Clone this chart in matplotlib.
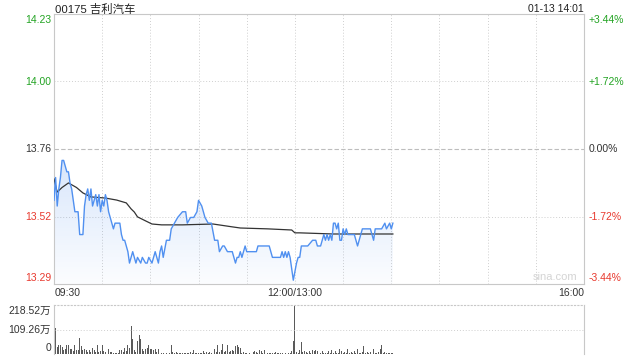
import matplotlib
matplotlib.use('Agg')
import matplotlib.pyplot as plt
import numpy as np
from matplotlib.patches import Polygon

plt.rcParams['font.family'] = ['Liberation Sans', 'Noto Sans CJK SC', 'DejaVu Sans']

# ---------------- data ----------------
title = '00175 吉利汽车'
timestamp = '01-13 14:01'
prev_close = 13.76
range_pct = 3.44
price_labels = ['14.23', '14.00', '13.76', '13.52', '13.29']
pct_labels = ['+3.44%', '+1.72%', '0.00%', '-1.72%', '-3.44%']
x_labels = ['09:30', '12:00/13:00', '16:00']
vol_max = 218.52
vol_labels = ['218.52万', '109.26万', '0']

# minute index since 09:30 (13:00 == 150), price
price_min = [0, 1, 2, 3, 4, 5, 6, 7, 8, 9, 10, 11, 12, 13, 15, 16, 18, 19, 20, 21,
             22, 23, 24, 25, 26, 27, 28, 29, 30, 31, 32, 33, 34, 36, 37, 38, 39, 41, 42, 43,
             44, 46, 47, 49, 50, 51, 52, 54, 55, 57, 58, 59, 61, 63, 65, 66, 67, 68, 70, 72,
             73, 75, 77, 80, 82, 83, 85, 87, 89, 90, 92, 94, 96, 98, 100, 102, 103, 105, 106, 108,
             111, 113, 114, 115, 116, 117, 118, 119, 120, 126, 127, 134, 136, 141, 142, 143, 144, 145, 146, 147,
             148, 149, 151, 152, 153, 154, 158, 161, 163, 164, 166, 167, 168, 169, 170, 171, 172, 173, 174, 175,
             176, 177, 178, 179, 180, 181, 182, 183, 187, 189, 190, 191, 192, 194, 196, 197, 199, 200, 201, 202,
             204, 206, 207, 209, 210, 211]
price = [13.58, 13.66, 13.56, 13.62, 13.66, 13.72, 13.72, 13.70, 13.68, 13.68, 13.64, 13.62, 13.58, 13.54, 13.54, 13.46, 13.46, 13.56, 13.60, 13.62,
         13.58, 13.62, 13.56, 13.58, 13.60, 13.56, 13.60, 13.54, 13.58, 13.56, 13.60, 13.58, 13.54, 13.50, 13.48, 13.50, 13.50, 13.50, 13.46, 13.44,
         13.44, 13.40, 13.36, 13.40, 13.38, 13.36, 13.38, 13.36, 13.38, 13.36, 13.36, 13.38, 13.36, 13.40, 13.36, 13.40, 13.42, 13.38, 13.44, 13.44,
         13.48, 13.50, 13.52, 13.54, 13.54, 13.50, 13.52, 13.52, 13.54, 13.58, 13.56, 13.52, 13.50, 13.50, 13.44, 13.44, 13.40, 13.42, 13.42, 13.40,
         13.40, 13.36, 13.38, 13.38, 13.40, 13.38, 13.40, 13.42, 13.40, 13.40, 13.42, 13.42, 13.38, 13.38, 13.40, 13.38, 13.40, 13.38, 13.40, 13.38,
         13.34, 13.30, 13.36, 13.38, 13.38, 13.42, 13.42, 13.44, 13.44, 13.42, 13.42, 13.44, 13.46, 13.44, 13.46, 13.44, 13.46, 13.44, 13.50, 13.50,
         13.48, 13.50, 13.44, 13.44, 13.48, 13.46, 13.48, 13.46, 13.46, 13.42, 13.44, 13.46, 13.48, 13.48, 13.48, 13.48, 13.44, 13.48, 13.48, 13.48,
         13.48, 13.50, 13.48, 13.50, 13.48, 13.50]

avg_min = [0, 2, 5, 9, 14, 18, 23, 32, 39, 45, 48, 50, 52, 57, 61, 67, 80, 99, 111, 116,
           133, 148, 150, 153, 174, 211]
avg_price = [13.655, 13.609, 13.625, 13.641, 13.625, 13.606, 13.592, 13.588, 13.581, 13.571,
             13.550, 13.539, 13.522, 13.508, 13.497, 13.494, 13.494, 13.497, 13.487, 13.483,
             13.480, 13.476, 13.466, 13.466, 13.462, 13.462]

# volume per minute (万股), minute 0 .. 211
volume = [84, 118, 30, 42, 39, 31, 18, 24, 39, 42, 24, 24, 14, 39, 16, 20, 72, 34, 16, 24,
          16, 10, 16, 8, 27, 16, 10, 42, 9, 12, 42, 12, 9, 12, 24, 8, 9, 5, 6, 4,
          6, 16, 16, 8, 27, 12, 39, 27, 124, 69, 16, 10, 57, 84, 69, 24, 12, 24, 27, 42,
          24, 24, 16, 24, 10, 21, 21, 6, 4, 2, 3, 2, 4, 42, 9, 6, 9, 5, 6, 4,
          6, 3, 6, 4, 5, 9, 6, 16, 4, 6, 5, 6, 4, 12, 6, 9, 5, 9, 4, 9,
          24, 8, 42, 10, 16, 46, 9, 12, 39, 8, 12, 16, 12, 36, 39, 31, 27, 6, 9, 6,
          6, 2, 6, 2, 9, 12, 9, 6, 16, 12, 5, 16, 6, 4, 5, 3, 4, 6, 9, 4,
          6, 3, 4, 2, 3, 2, 4, 6, 12, 57, 218.52, 9, 6, 16, 54, 8, 12, 9, 5, 12,
          6, 16, 12, 16, 12, 6, 5, 12, 4, 6, 5, 12, 6, 16, 5, 12, 6, 4, 21, 12,
          5, 9, 4, 21, 6, 9, 5, 12, 4, 21, 6, 5, 8, 36, 5, 9, 4, 9, 5, 24,
          6, 4, 9, 21, 42, 6, 9, 5, 6, 4, 5, 6]

# ---------------- styling ----------------
GREEN = '#22a322'
RED = '#e8392e'
DARK = '#333333'
BLUE = '#5090f0'
GRID = '#cfcfcf'
BORDER = '#c8c8c8'

W, H = 640, 360
fig = plt.figure(figsize=(6.4, 3.6), dpi=100)

def fx(px):
    return px / W

def fy(py):
    return 1 - py / H

L, R = 54, 584
T1, B1 = 14, 284
T2, B2 = 305, 354

ax = fig.add_axes([fx(L), fy(B1), (R - L) / W, (B1 - T1) / H])
lo = prev_close * (1 - range_pct / 100)
hi = prev_close * (1 + range_pct / 100)
ax.set_xlim(0, 330)
ax.set_ylim(lo, hi)
ax.set_xticks([])
ax.set_yticks([])
for s in ax.spines.values():
    s.set_color(BORDER)
    s.set_linewidth(0.8)

for m in range(30, 330, 30):
    ax.axvline(m, color=GRID, lw=0.7, ls=(0, (1, 2)), zorder=1)
step = (hi - prev_close) / 2
ax.axhline(prev_close + step, color=GRID, lw=0.7, ls=(0, (1, 2)), zorder=1)
ax.axhline(prev_close - step, color=GRID, lw=0.7, ls=(0, (1, 2)), zorder=1)
ax.axhline(prev_close, color='#bdbdbd', lw=0.8, ls=(0, (4, 2)), zorder=1)

# gradient fill under price line
xs = np.array(price_min, dtype=float)
ys = np.array(price, dtype=float)
poly = np.vstack([np.column_stack([xs, ys]), [[xs[-1], lo], [xs[0], lo]]])
patch = Polygon(poly, closed=True, facecolor='none', edgecolor='none')
ax.add_patch(patch)
grad = np.linspace(0.22, 0.02, 256).reshape(-1, 1)
rgba = np.zeros((256, 1, 4))
rgba[..., 0] = 0.31
rgba[..., 1] = 0.56
rgba[..., 2] = 0.94
rgba[..., 3] = grad
img = ax.imshow(rgba, extent=[xs[0], xs[-1], lo, ys.max()], aspect='auto',
                origin='upper', zorder=2)
img.set_clip_path(patch)
ax.set_xlim(0, 330)
ax.set_ylim(lo, hi)

ax.plot(price_min, price, color=BLUE, lw=1.0, zorder=4)
ax.plot(avg_min, avg_price, color=DARK, lw=0.9, zorder=3)

# volume panel
ax2 = fig.add_axes([fx(L), fy(B2), (R - L) / W, (B2 - T2) / H])
ax2.set_xlim(0, 330)
ax2.set_ylim(0, vol_max)
ax2.set_xticks([])
ax2.set_yticks([])
for k, s in ax2.spines.items():
    s.set_color(BORDER)
    s.set_linewidth(0.8)
ax2.spines['top'].set_linestyle((0, (1, 2)))
ax2.spines['bottom'].set_visible(False)
ax2.axhline(vol_max / 2, color=GRID, lw=0.7, ls=(0, (1, 2)))
ax2.bar(np.arange(len(volume)), volume, width=0.6, color='#5a5a5a', linewidth=0)

# ---------------- texts ----------------
fs = 7.5
fig.text(fx(55), fy(9), title, fontsize=8.2, color='#222222', ha='left', va='center')
fig.text(fx(R), fy(9), timestamp, fontsize=7.5, color='#222222', ha='right', va='center')

lab_y = [T1 + 1, 82, 149, 217, B1 - 1]
lab_va = ['top', 'center', 'center', 'center', 'bottom']
lab_col = [GREEN, GREEN, DARK, RED, RED]
for t, p, y, va, c in zip(price_labels, pct_labels, lab_y, lab_va, lab_col):
    fig.text(fx(51), fy(y), t, fontsize=fs, color=c, ha='right', va=va)
    fig.text(fx(589), fy(y), p, fontsize=fs, color=c, ha='left', va=va)

fig.text(fx(55), fy(293), x_labels[0], fontsize=fs, color=DARK, ha='left', va='center')
fig.text(fx(L + (R - L) * 150 / 330), fy(293), x_labels[1], fontsize=fs, color=DARK,
         ha='center', va='center')
fig.text(fx(R), fy(293), x_labels[2], fontsize=fs, color=DARK, ha='right', va='center')

fig.text(fx(51), fy(T2 + 1), vol_labels[0], fontsize=fs, color=DARK, ha='right', va='top')
fig.text(fx(51), fy((T2 + B2) / 2), vol_labels[1], fontsize=fs, color=DARK, ha='right', va='center')
fig.text(fx(51), fy(B2 - 1), vol_labels[2], fontsize=fs, color=DARK, ha='right', va='bottom')

fig.text(fx(577), fy(277), 'sina.com', fontsize=8, color='#d4d4d4', ha='right', va='center')

fig.savefig('out.png', dpi=100)
